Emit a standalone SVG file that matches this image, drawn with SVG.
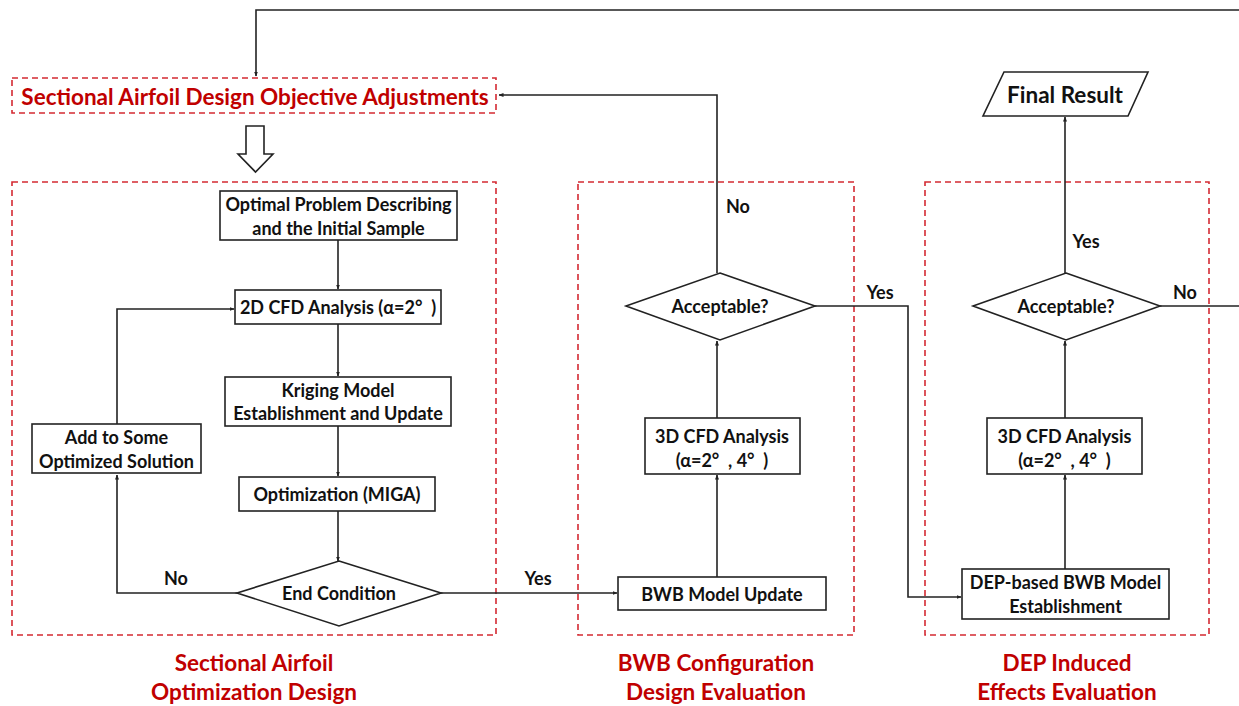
<svg xmlns="http://www.w3.org/2000/svg" width="1239" height="706" viewBox="0 0 1239 706">
<defs>
<marker id="ah" viewBox="0 0 10 10" refX="9" refY="5" markerWidth="5" markerHeight="5" orient="auto" markerUnits="userSpaceOnUse">
<path d="M0,1 L10,5 L0,9 z" fill="#222"/>
</marker>
<style>
.box{fill:#fff;stroke:#222;stroke-width:1.6}
.grp{fill:none;stroke:#D42A32;stroke-width:1.6;stroke-dasharray:6 4}
.t{font-family:Lato,"Open Sans","Liberation Sans",sans-serif;font-weight:bold;font-size:18px;fill:#111;text-anchor:middle;dominant-baseline:central}
.r{font-family:Lato,"Open Sans","Liberation Sans",sans-serif;font-weight:bold;font-size:22.5px;fill:#C00000;text-anchor:middle;dominant-baseline:central}
.c{fill:none;stroke:#222;stroke-width:1.6}
</style>
</defs>
<rect width="1239" height="706" fill="#fff"/>

<g id="groups">
<rect class="grp" x="12" y="78" width="484" height="35"/>
<rect class="grp" x="12" y="182" width="484" height="453"/>
<rect class="grp" x="578" y="182" width="276" height="453"/>
<rect class="grp" x="925" y="182" width="284" height="453"/>
</g>

<g id="connectors">
<path class="c" d="M1239,10 H256 V76" marker-end="url(#ah)"/>
<path class="c" d="M717,273 V95 H499" marker-end="url(#ah)"/>
<path class="c" d="M338,240 V289" marker-end="url(#ah)"/>
<path class="c" d="M338,324 V376" marker-end="url(#ah)"/>
<path class="c" d="M338,426 V476" marker-end="url(#ah)"/>
<path class="c" d="M338,511 V561" marker-end="url(#ah)"/>
<path class="c" d="M237,593 H117 V475" marker-end="url(#ah)"/>
<path class="c" d="M117,424 V309 H234" marker-end="url(#ah)"/>
<path class="c" d="M441,593 H617" marker-end="url(#ah)"/>
<path class="c" d="M717,577 V475" marker-end="url(#ah)"/>
<path class="c" d="M717,418 V341" marker-end="url(#ah)"/>
<path class="c" d="M815,306 H908 V597 H961" marker-end="url(#ah)"/>
<path class="c" d="M1065,569 V475" marker-end="url(#ah)"/>
<path class="c" d="M1065,418 V341" marker-end="url(#ah)"/>
<path class="c" d="M1065,273 V117" marker-end="url(#ah)"/>
<path class="c" d="M1160,306 H1239"/>
<text class="t" x="176" y="578">No</text>
<text class="t" x="538" y="578">Yes</text>
<text class="t" x="738" y="206">No</text>
<text class="t" x="880" y="292">Yes</text>
<text class="t" x="1086" y="241">Yes</text>
<text class="t" x="1185" y="292">No</text>
</g>

<g id="adjust">
<text class="r" x="255" y="96">Sectional Airfoil Design Objective Adjustments</text>
</g>

<g id="hollow-arrow">
<path d="M246,126 H264 V154 H273 L255.5,172 L238,154 H246 Z" fill="#fff" stroke="#222" stroke-width="1.6"/>
</g>

<g id="n-optimal">
<rect class="box" x="220" y="191" width="237" height="49"/>
<text class="t" x="338.5" y="204">Optimal Problem Describing</text>
<text class="t" x="338.5" y="228">and the Initial Sample</text>
</g>
<g id="n-2dcfd">
<rect class="box" x="235" y="290" width="206" height="34"/>
<text class="t" x="338" y="307">2D CFD Analysis (α=2°&#160;&#160;)</text>
</g>
<g id="n-kriging">
<rect class="box" x="225" y="377" width="226" height="49"/>
<text class="t" x="338" y="390">Kriging Model</text>
<text class="t" x="338" y="413">Establishment and Update</text>
</g>
<g id="n-miga">
<rect class="box" x="239" y="477" width="196" height="34"/>
<text class="t" x="337" y="494">Optimization (MIGA)</text>
</g>
<g id="n-end">
<polygon class="box" points="339,561 441,593 339,626 237,593"/>
<text class="t" x="339" y="593">End Condition</text>
</g>
<g id="n-add">
<rect class="box" x="32" y="424" width="169" height="49"/>
<text class="t" x="116.5" y="437">Add to Some</text>
<text class="t" x="116.5" y="461">Optimized Solution</text>
</g>

<g id="n-bwbupdate">
<rect class="box" x="618" y="577" width="208" height="33"/>
<text class="t" x="722" y="594">BWB Model Update</text>
</g>
<g id="n-3dcfd1">
<rect class="box" x="645" y="418" width="155" height="56"/>
<text class="t" x="722" y="436">3D CFD Analysis</text>
<text class="t" x="722" y="460">(α=2°&#160;&#160;, 4°&#160;&#160;)</text>
</g>
<g id="n-acc1">
<polygon class="box" points="720,273 815,306 720,340 626,306"/>
<text class="t" x="720" y="306">Acceptable?</text>
</g>

<g id="n-dep">
<rect class="box" x="962" y="569" width="207" height="50"/>
<text class="t" x="1065.5" y="582">DEP-based BWB Model</text>
<text class="t" x="1065.5" y="606">Establishment</text>
</g>
<g id="n-3dcfd2">
<rect class="box" x="987" y="418" width="155" height="56"/>
<text class="t" x="1064.5" y="436">3D CFD Analysis</text>
<text class="t" x="1064.5" y="460">(α=2°&#160;&#160;, 4°&#160;&#160;)</text>
</g>
<g id="n-acc2">
<polygon class="box" points="1066,273 1160,306 1066,340 973,306"/>
<text class="t" x="1066" y="306">Acceptable?</text>
</g>
<g id="n-final">
<polygon class="box" points="1004,72 1148,72 1128,116 983,116"/>
<text class="r" x="1065" y="94" style="fill:#111">Final Result</text>
</g>

<g id="labels">
<text class="r" x="254" y="662">Sectional Airfoil</text>
<text class="r" x="254" y="691">Optimization Design</text>
<text class="r" x="716" y="662">BWB Configuration</text>
<text class="r" x="716" y="691">Design Evaluation</text>
<text class="r" x="1067" y="662">DEP Induced</text>
<text class="r" x="1067" y="691">Effects Evaluation</text>
</g>
</svg>
